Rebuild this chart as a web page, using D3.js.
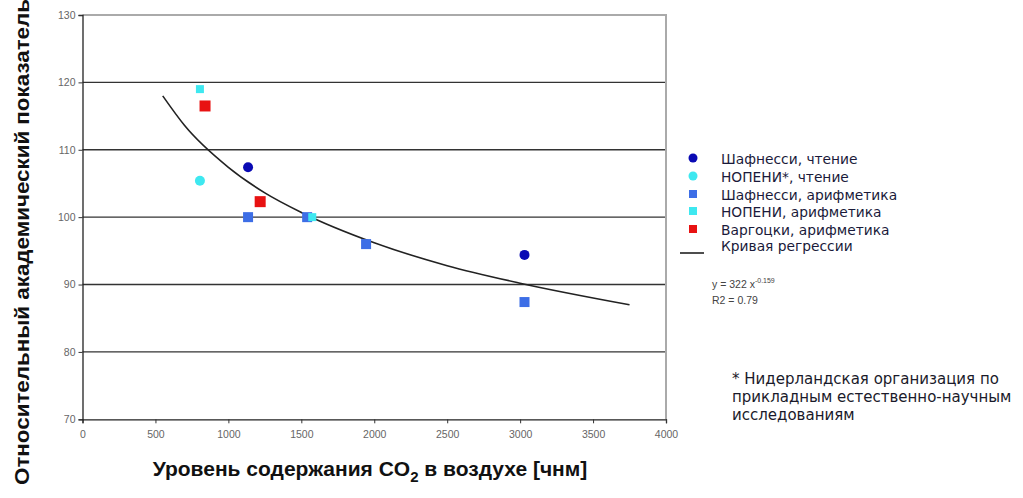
<!DOCTYPE html>
<html><head><meta charset="utf-8">
<script src="https://cdn.jsdelivr.net/npm/d3@7"></script>
<style>body{margin:0;background:#fff}svg{display:block}</style>
</head><body>
<svg id="c" width="1023" height="498"></svg>
<script>
// ---- data ----
const xTicks = [0,500,1000,1500,2000,2500,3000,3500,4000];
const yTicks = [70,80,90,100,110,120,130];
const shafReadX = [1135, 3030];
const shafReadY = [107.4, 94.4];
const nopeniReadX = [805];
const nopeniReadY = [105.4];
const shafMathX = [1135, 1540, 1944, 3030];
const shafMathY = [100.0, 100.0, 96.0, 87.4];
const nopeniMathX = [805, 1575];
const nopeniMathY = [119.0, 100.0];
const vargMathX = [840, 1218];
const vargMathY = [116.5, 102.3];
const regX = [550, 700, 1000, 1250, 1500, 2000, 2500, 3000, 3750];
const regY = [118.0, 113.6, 107.4, 103.6, 100.7, 96.2, 92.8, 90.2, 87.0];
const legendLabels = ["Шафнесси, чтение","НОПЕНИ*, чтение","Шафнесси, арифметика","НОПЕНИ, арифметика","Варгоцки, арифметика","Кривая регрессии"];
const footnote = ["* Нидерландская организация по","прикладным естественно-научным","исследованиям"];

const svg = d3.select("#c");
const x = d3.scaleLinear().domain([0,4000]).range([82.5,666]);
const y = d3.scaleLinear().domain([70,130]).range([419.3,15]);

// gridlines
svg.append("g").selectAll("line").data(yTicks.filter(v=>v>70&&v<130)).join("line")
  .attr("x1",x(0)).attr("x2",x(4000)).attr("y1",d=>y(d)).attr("y2",d=>y(d))
  .attr("stroke","#333").attr("stroke-width",1.4);
// top and right border
svg.append("path").attr("d",`M${x(0)},${y(130)}H${x(4000)}V${y(70)}`)
  .attr("fill","none").attr("stroke","#aaa").attr("stroke-width",2);

// axes
const gx = svg.append("g").attr("transform",`translate(0,${y(70)})`)
  .call(d3.axisBottom(x).tickValues(xTicks).tickSize(4).tickPadding(7).tickFormat(d3.format("d")));
const gy = svg.append("g").attr("transform",`translate(${x(0)},0)`)
  .call(d3.axisLeft(y).tickValues(yTicks).tickSize(4).tickPadding(3).tickFormat(d3.format("d")));
[gx,gy].forEach(g=>{
  g.select(".domain").attr("stroke","#222").attr("stroke-width",1.3);
  g.selectAll(".tick line").attr("stroke","#333");
  g.selectAll("text").attr("fill","#666").style("font-family","Arial, 'Liberation Sans'").style("font-size","10.5px");
});

// regression curve
svg.append("path").datum(regX.map((v,i)=>[v,regY[i]]))
  .attr("d",d3.line().x(d=>x(d[0])).y(d=>y(d[1])).curve(d3.curveMonotoneX))
  .attr("fill","none").attr("stroke","#222").attr("stroke-width",1.6);

const cNavy="#0a0ab4", cCyan="#3ee8f0", cBlue="#3d6ee6", cRed="#e81212";
function squares(xs,ys,col,s){
  svg.append("g").selectAll("rect").data(xs.map((v,i)=>[v,ys[i]])).join("rect")
    .attr("x",d=>x(d[0])-s/2).attr("y",d=>y(d[1])-s/2).attr("width",s).attr("height",s).attr("fill",col);
}
function circles(xs,ys,col,r){
  svg.append("g").selectAll("circle").data(xs.map((v,i)=>[v,ys[i]])).join("circle")
    .attr("cx",d=>x(d[0])).attr("cy",d=>y(d[1])).attr("r",r).attr("fill",col);
}
squares(shafMathX,shafMathY,cBlue,10);
squares(nopeniMathX,nopeniMathY,cCyan,8);
squares(vargMathX,vargMathY,cRed,11);
circles(shafReadX,shafReadY,cNavy,5);
circles(nopeniReadX,nopeniReadY,cCyan,5);

// legend
const lg = svg.append("g");
const rowY = [160,178,196,213,231,247];
const markers = [["c",cNavy],["c",cCyan],["s",cBlue],["s",cCyan],["s",cRed],["l","#222"]];
markers.forEach((m,i)=>{
  const cy = rowY[i];
  if(m[0]==="c") lg.append("circle").attr("cx",693).attr("cy",cy-2).attr("r",4.5).attr("fill",m[1]);
  else if(m[0]==="s") lg.append("rect").attr("x",689).attr("y",cy-6).attr("width",8).attr("height",8).attr("fill",m[1]);
  else lg.append("line").attr("x1",680).attr("x2",704).attr("y1",cy+6).attr("y2",cy+6).attr("stroke",m[1]).attr("stroke-width",1.6);
  lg.append("text").attr("x",721).attr("y",cy+4).text(legendLabels[i])
    .style("font-family","'DejaVu Sans', Verdana").style("font-size","13.8px").attr("fill","#1a1a3a");
});
const eq = svg.append("text").attr("x",712).attr("y",288)
  .style("font-family","Arial, 'Liberation Sans'").style("font-size","10.5px").attr("fill","#444");
eq.append("tspan").text("y = 322  x");
eq.append("tspan").attr("dy",-5).style("font-size","7px").text("-0.159");
svg.append("text").attr("x",712).attr("y",304).text("R2 = 0.79")
  .style("font-family","Arial, 'Liberation Sans'").style("font-size","10.5px").attr("fill","#444");

// footnote
footnote.forEach((t,i)=>{
  svg.append("text").attr("x",732).attr("y",384+i*18).text(t)
    .style("font-family","'DejaVu Sans', Verdana").style("font-size","15px").attr("fill","#1a1a2a");
});

// axis titles
const xt = svg.append("text").attr("x",370).attr("y",476).attr("text-anchor","middle")
  .style("font-family","Arial, 'Liberation Sans'").style("font-size","21px").style("font-weight","bold").attr("fill","#111");
xt.append("tspan").text("Уровень содержания CO");
xt.append("tspan").attr("dy",6).style("font-size","15px").text("2");
xt.append("tspan").attr("dy",-6).text(" в воздухе [чнм]");

svg.append("text").attr("transform","translate(29,242) rotate(-90)").attr("text-anchor","middle")
  .style("font-family","Arial, 'Liberation Sans'").style("font-size","21px").style("font-weight","bold").attr("fill","#111")
  .attr("textLength",486).attr("lengthAdjust","spacingAndGlyphs")
  .text("Относительный академический показатель");
</script>
</body></html>
